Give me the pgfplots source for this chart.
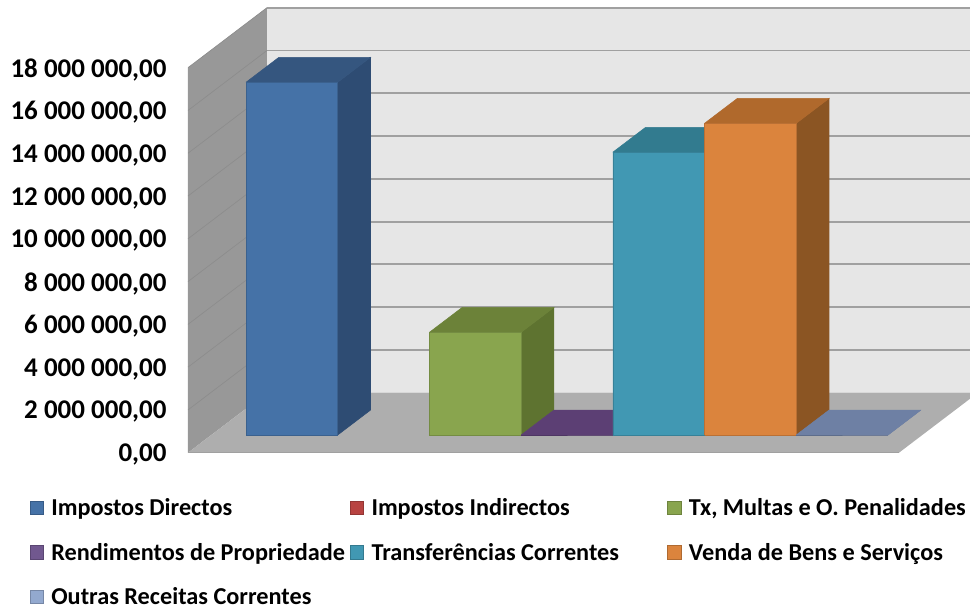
\documentclass[border=0pt]{standalone}
\usepackage{fontspec}
\setmainfont{Carlito}
\usepackage{pgfplots}
\pgfplotsset{compat=1.18}
\definecolor{wallside}{HTML}{989898}
\definecolor{wallback}{HTML}{E6E6E6}
\definecolor{wallfloor}{HTML}{AEAEAE}
\definecolor{gridl}{HTML}{A0A0A0}
\definecolor{sidel}{HTML}{8C8C8C}
\definecolor{blueF}{HTML}{4572A7}\definecolor{blueT}{HTML}{35567F}\definecolor{blueS}{HTML}{2E4C73}
\definecolor{greenF}{HTML}{89A54E}\definecolor{greenT}{HTML}{6C8239}\definecolor{greenS}{HTML}{5E7330}
\definecolor{teal1}{HTML}{4198B3}\definecolor{tealT}{HTML}{327B8F}
\definecolor{orangeF}{HTML}{DB843D}\definecolor{orangeT}{HTML}{B0692C}\definecolor{orangeS}{HTML}{8B5523}
\definecolor{purpleF}{HTML}{5C3F74}
\definecolor{slateF}{HTML}{6E80A4}
\definecolor{redL}{HTML}{B84341}
\definecolor{purpleL}{HTML}{71588F}
\definecolor{slateL}{HTML}{93A9CF}
% one bar: left, right, value, front, top, side
\newcommand{\barthreed}[6]{%
  \addplot3[forget plot,draw=#6,fill=#6] coordinates {(#2,0.295,0) (#2,0.71,0) (#2,0.71,#3) (#2,0.295,#3) (#2,0.295,0)};
  \addplot3[forget plot,draw=#5,fill=#5] coordinates {(#1,0.295,#3) (#2,0.295,#3) (#2,0.71,#3) (#1,0.71,#3) (#1,0.295,#3)};
  \addplot3[forget plot,draw=#4!85!black,fill=#4] coordinates {(#1,0.295,0) (#2,0.295,0) (#2,0.295,#3) (#1,0.295,#3) (#1,0.295,0)};
}
\begin{document}
\begin{tikzpicture}
\clip[use as bounding box] (-132.64pt,-117.23pt) rectangle (594.86pt,339.53pt);
\begin{axis}[
    anchor=origin, at={(0pt,0pt)},
    x={(68.775pt,0pt)}, y={(59.25pt,45pt)}, z={(0pt,16.0425pt)},
    xmin=0, xmax=8, ymin=0, ymax=1, zmin=0, zmax=18,
    z filter/.expression={z/1000000},
    clip=false,
    axis line style={draw=none},
    tick style={draw=none},
    grid=none,
    xtick=\empty, ytick=\empty,
    ztick={0,2,...,18},
    zticklabels={{0,00},{2 000 000,00},{4 000 000,00},{6 000 000,00},{8 000 000,00},{10 000 000,00},{12 000 000,00},{14 000 000,00},{16 000 000,00},{18 000 000,00}},
    zticklabel pos=left,
    zticklabel style={font=\fontsize{20.25}{22}\selectfont\bfseries, anchor=east, xshift=-4.2pt, yshift=-1.5pt},
    mark=none,
    legend image code/.code={\draw[#1,line width=0.6pt] (0pt,-5pt) rectangle (10pt,5pt);},
    legend style={at={(axis cs:0,0,0)}, anchor=north west, draw=none, fill=none,
        xshift=-110.5pt, yshift=-32.25pt, legend columns=3, cells={anchor=west},
        font=\fontsize{18.2}{20}\selectfont\bfseries,
        /tikz/every odd column/.append style={column sep=3.75pt},
        /tikz/every even column/.append style={column sep=1.5pt},
        /tikz/row sep=15.2pt, inner sep=0pt, outer sep=0pt},
]
% walls and floor
\addplot3[forget plot,draw=none,fill=wallback] coordinates {(0.1215,1,0) (8,1,0) (8,1,18000000) (0.1215,1,18000000) (0.1215,1,0)};
\addplot3[forget plot,draw=none,fill=wallside] coordinates {(0.1215,0,0) (0.1215,1,0) (0.1215,1,18000000) (0.1215,0,18000000) (0.1215,0,0)};
\addplot3[forget plot,draw=none,fill=wallfloor] coordinates {(0.1215,0,0) (7.875,0,0) (7.875,1,0) (0.1215,1,0) (0.1215,0,0)};
% gridlines on back wall and side wall
\pgfplotsinvokeforeach{2000000,4000000,6000000,8000000,10000000,12000000,14000000,16000000,18000000}{
  \addplot3[forget plot,draw=gridl,line width=1.4pt] coordinates {(0.1215,1,#1) (8,1,#1)};
  \addplot3[forget plot,draw=sidel,line width=0.5pt] coordinates {(0.1215,0,#1) (0.1215,1,#1)};
}
\addplot3[forget plot,draw=gridl,line width=0.8pt] coordinates {(0.1215,0,0) (7.875,0,0)};
% bars
\barthreed{0.5}{1.5}{16490000}{blueF}{blueT}{blueS}
\addplot3[forget plot,draw=none] coordinates {(1.5,0.295,0) (2.5,0.295,0)};
\barthreed{2.5}{3.5}{4800000}{greenF}{greenT}{greenS}
\barthreed{3.5}{4.5}{0}{purpleF}{purpleF}{purpleF}
\barthreed{4.5}{5.5}{13220000}{teal1}{tealT}{tealT}
\barthreed{5.5}{6.5}{14570000}{orangeF}{orangeT}{orangeS}
\barthreed{6.5}{7.5}{0}{slateF}{slateF}{slateF}
% legend
\addlegendimage{fill=blueF,draw=blueF!80!black}\addlegendentry{Impostos Directos}
\addlegendimage{fill=redL,draw=redL!80!black}\addlegendentry{\makebox[218.25pt][l]{Impostos Indirectos}}
\addlegendimage{fill=greenF,draw=greenF!80!black}\addlegendentry{Tx, Multas e O. Penalidades}
\addlegendimage{fill=purpleL,draw=purpleL!80!black}\addlegendentry{Rendimentos de Propriedade}
\addlegendimage{fill=teal1,draw=teal1!80!black}\addlegendentry{Transferências Correntes}
\addlegendimage{fill=orangeF,draw=orangeF!80!black}\addlegendentry{Venda de Bens e Serviços}
\addlegendimage{fill=slateL,draw=slateL!80!black}\addlegendentry{Outras Receitas Correntes}
\end{axis}
\end{tikzpicture}
\end{document}
